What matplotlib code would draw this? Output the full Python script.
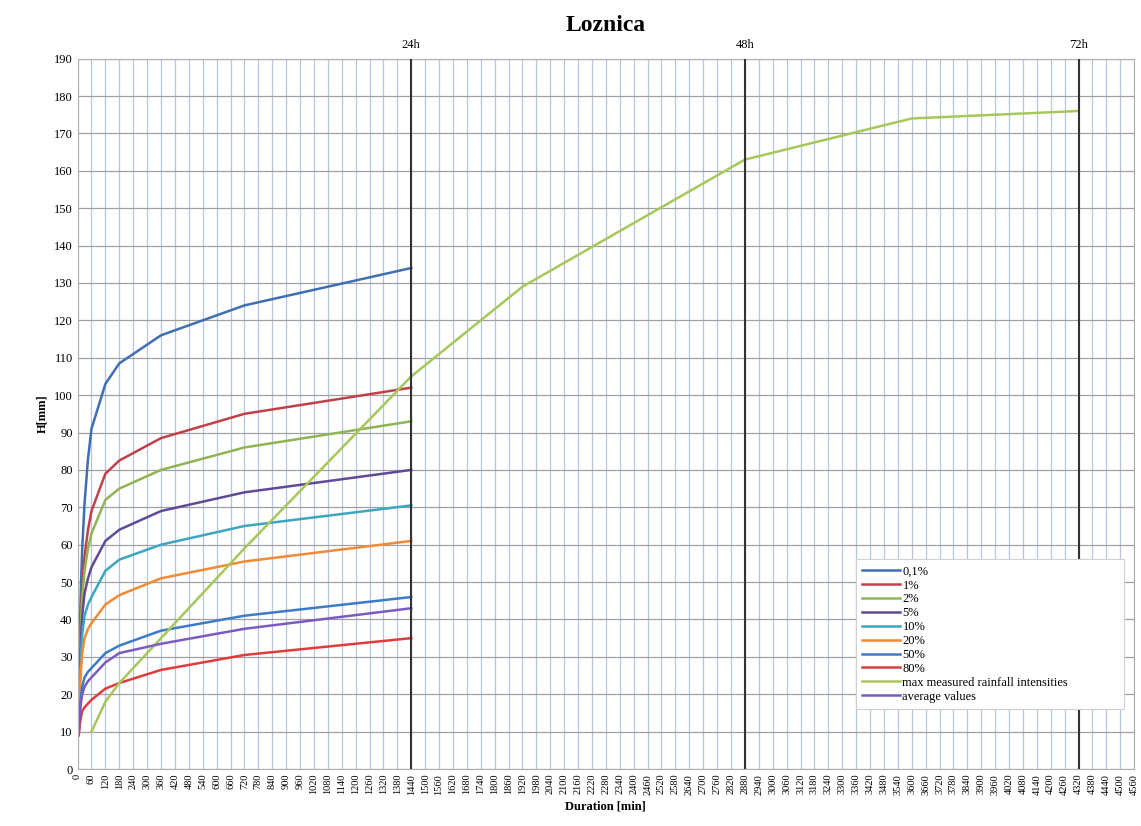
import matplotlib
matplotlib.use("Agg")
import matplotlib.pyplot as plt
import numpy as np

plt.rcParams['font.family'] = ['Liberation Serif', 'DejaVu Serif']

# durations [min] for the return-period curves
durations = [5, 10, 15, 20, 30, 45, 60, 120, 180, 360, 720, 1440]

p01 = [22, 38, 50, 59, 71, 83, 91, 103, 108.5, 116, 124, 134]
p1 = [18, 32, 42, 49, 57, 64, 69, 79, 82.5, 88.5, 95, 102]
p2 = [17, 30, 40, 46, 53, 59, 63, 72, 75, 80, 86, 93]
p5 = [15, 27, 35, 41, 47, 51, 54, 61, 64, 69, 74, 80]
p10 = [14, 24, 31, 36, 41, 44, 46, 53, 56, 60, 65, 70.5]
p20 = [12, 21, 27, 31, 35, 37.5, 39, 44, 46.5, 51, 55.5, 61]
p50 = [10, 16, 19.5, 22, 24.5, 26, 27, 31, 33, 37, 41, 46]
p80 = [9, 12, 14, 15.5, 16.5, 17.5, 18.5, 21.5, 23, 26.5, 30.5, 35]
avg = [10, 15, 18, 20, 22, 23.5, 24.5, 28.5, 31, 33.5, 37.5, 43]

max_x = [60, 120, 180, 360, 720, 1440, 1920, 2880, 3600, 4320]
max_y = [10, 18, 23, 35, 59, 105, 129, 163, 174, 176]

series = [
    ("0,1%", p01, "#3f6fb2"),
    ("1%", p1, "#c0404a"),
    ("2%", p2, "#8fb552"),
    ("5%", p5, "#5e4a96"),
    ("10%", p10, "#3aa6bf"),
    ("20%", p20, "#f08a35"),
    ("50%", p50, "#3c7bc8"),
    ("80%", p80, "#e03c3c"),
]

fig = plt.figure(figsize=(11.41, 8.26), dpi=100)
ax = fig.add_axes([0.068, 0.069, 0.926, 0.86])

for name, vals, col in series:
    ax.plot(durations, vals, color=col, lw=1.8, label=name)
ax.plot(max_x, max_y, color="#a6c85a", lw=1.8, label="max measured rainfall intensities")
ax.plot(durations, avg, color="#7a5cc0", lw=1.8, label="average values")

# 24h / 48h / 72h markers
for x, lab in [(1440, "24h"), (2880, "48h"), (4320, "72h")]:
    ax.axvline(x, color="#333333", lw=1.5, zorder=3)
    ax.text(x, 192, lab, ha="center", va="bottom", fontsize=9)

ax.set_xlim(0, 4560)
ax.set_ylim(0, 190)
ax.set_xticks(np.arange(0, 4561, 60))
ax.set_yticks(np.arange(0, 191, 10))
ax.tick_params(axis="x", labelrotation=90, labelsize=7.5, length=0)
ax.tick_params(axis="y", labelsize=9, length=0)
ax.grid(axis="x", color="#b8c4de", lw=0.9)
ax.grid(axis="y", color="#a0a0a0", lw=0.9)
ax.set_axisbelow(True)
for s in ax.spines.values():
    s.set_color("#b0b0b0")

ax.set_xlabel("Duration [min]", fontsize=9, fontweight="bold")
ax.set_ylabel("H[mm]", fontsize=9, fontweight="bold")
ax.set_title("Loznica", fontsize=17, fontweight="bold", pad=20)

leg = ax.legend(loc="lower left", bbox_to_anchor=(0.731, 0.076, 0.265, 0.2),
                mode="expand", fontsize=9,
                fancybox=False, framealpha=1, edgecolor="#d0d0d0",
                handlelength=3.0, handletextpad=0.2, labelspacing=0.15,
                borderpad=0.5)
leg.get_frame().set_linewidth(0.8)

plt.savefig("out.png", dpi=100)
